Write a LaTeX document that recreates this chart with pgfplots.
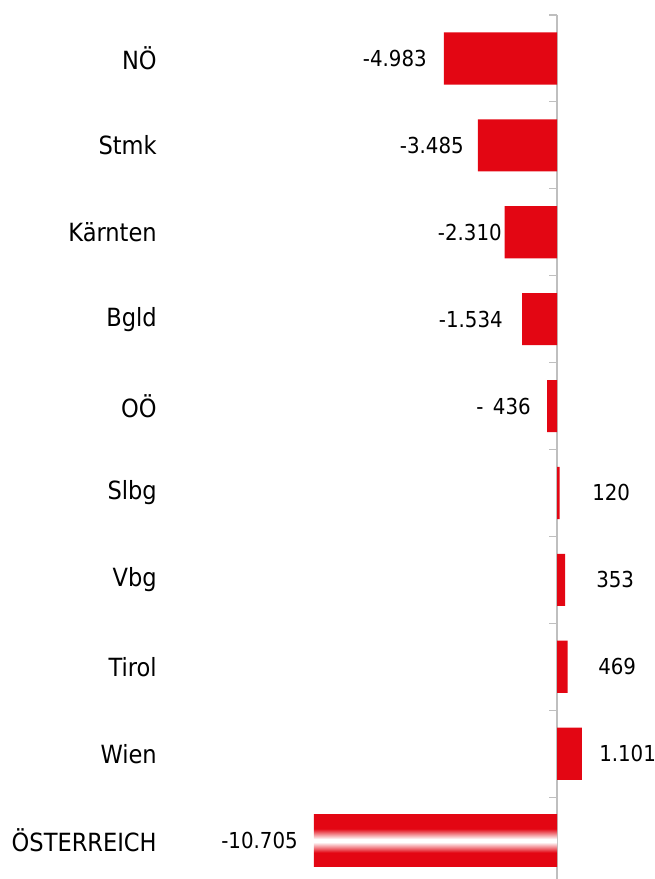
\documentclass[border=0pt]{standalone}
\usepackage{pgfplots}
\usepackage{pgfplotstable}
\pgfplotsset{compat=1.18}
\usepackage{fontspec}
\setmainfont{DejaVu Sans Condensed}
\definecolor{barred}{RGB}{227,6,19}
\definecolor{axgray}{RGB}{191,191,191}
\pgfdeclareverticalshading{redband}{100bp}{color(0bp)=(barred); color(38.5bp)=(barred); color(48.5bp)=(white); color(51.5bp)=(white); color(61.5bp)=(barred); color(100bp)=(barred)}
\pgfplotstableread{
i v
0 -4983
1 -3485
2 -2310
3 -1534
4 -436
5 120
6 353
7 469
8 1101
}\regions
\begin{document}
\begin{tikzpicture}
\begin{axis}[
 name=ax, scale only axis, width=491.25pt, height=659.25pt,
 xmin=-24537, xmax=4317, ymin=-0.6726, ymax=9.442, y dir=reverse,
 axis x line=none, axis y line=center,
 y axis line style={-, draw=axgray, line width=1.1pt, shorten <=11.25pt},
 ytick={0,...,9},
 yticklabels={NÖ,Stmk,Kärnten,Bgld,OÖ,Slbg,Vbg,Tirol,Wien,ÖSTERREICH},
 minor ytick={-0.5,0.5,...,8.5},
 major tick length=0pt, minor tick length=-6pt, tick align=inside,
 minor tick style={draw=axgray, line width=0.8pt},
 major tick style={draw=none},
 yticklabel style={anchor=east, inner sep=0pt, xshift=-300pt, font=\fontsize{18.8}{21}\selectfont},
 clip=false,
]
\addplot[xbar, bar width=0.6, bar shift=0pt, fill=barred, draw=none] table[x=v, y=i] {\regions};
\addplot[xbar, bar width=0.6, bar shift=0pt, shading=redband, shade, draw=none] coordinates {(-10705,9)};
\addplot[draw=none, mark=none, nodes near coords, point meta=explicit symbolic,
 nodes near coords style={anchor=east, inner sep=0pt, font=\fontsize{16.5}{18}\selectfont}]
 coordinates {(-5727,0) [-4.983] (-4097,1) [-3.485] (-2423,2) [-2.310] (-2379,3) [-1.534] (-1145,4) [{-\hspace{7pt}436}] (-11410,9) [-10.705]};
\addplot[draw=none, mark=none, nodes near coords, point meta=explicit symbolic,
 nodes near coords style={anchor=west, inner sep=0pt, font=\fontsize{16.5}{18}\selectfont}]
 coordinates {(1542,5) [120] (1718,6) [353] (1806,7) [469] (1850,8) [1.101]};
\end{axis}
\pgfresetboundingbox
\path[use as bounding box] (ax.south west) rectangle (ax.north east);
\end{tikzpicture}
\end{document}
